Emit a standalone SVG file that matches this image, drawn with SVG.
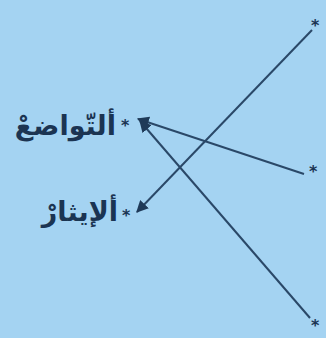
<svg xmlns="http://www.w3.org/2000/svg" width="326" height="338" viewBox="0 0 326 338">
<defs>
<marker id="ah" viewBox="0 0 10 10" refX="9" refY="5" markerWidth="6" markerHeight="6" orient="auto" markerUnits="strokeWidth">
<path d="M0,0 L10,5 L0,10 z" fill="#1f3a58"/>
</marker>
<style>
.w{font-family:"DejaVu Sans",sans-serif;font-weight:bold;font-size:27px;fill:#1b3452}
.s{font-family:"DejaVu Sans",sans-serif;font-weight:bold;font-size:16px;fill:#1b3452}
.c{stroke:#2a4868;stroke-width:2;fill:none;marker-end:url(#ah)}
</style>
</defs>
<rect width="326" height="338" fill="#a4d3f2"/>
<g id="left1"><text class="w" x="116" y="135" text-anchor="end">ألتّواضعْ</text><text class="s" x="121" y="131">*</text></g>
<g id="left2"><text class="w" x="118" y="221" text-anchor="end">ألإيثارْ</text><text class="s" x="122" y="221">*</text></g>
<g id="right1"><text class="s" x="311" y="31">*</text></g>
<g id="right2"><text class="s" x="309" y="177">*</text></g>
<g id="right3"><text class="s" x="311" y="331">*</text></g>
<g id="connectors">
<line class="c" x1="312" y1="30" x2="137" y2="212"/>
<line class="c" x1="304" y1="174" x2="138" y2="119"/>
<line class="c" x1="310" y1="318" x2="140" y2="121"/>
</g>
</svg>
